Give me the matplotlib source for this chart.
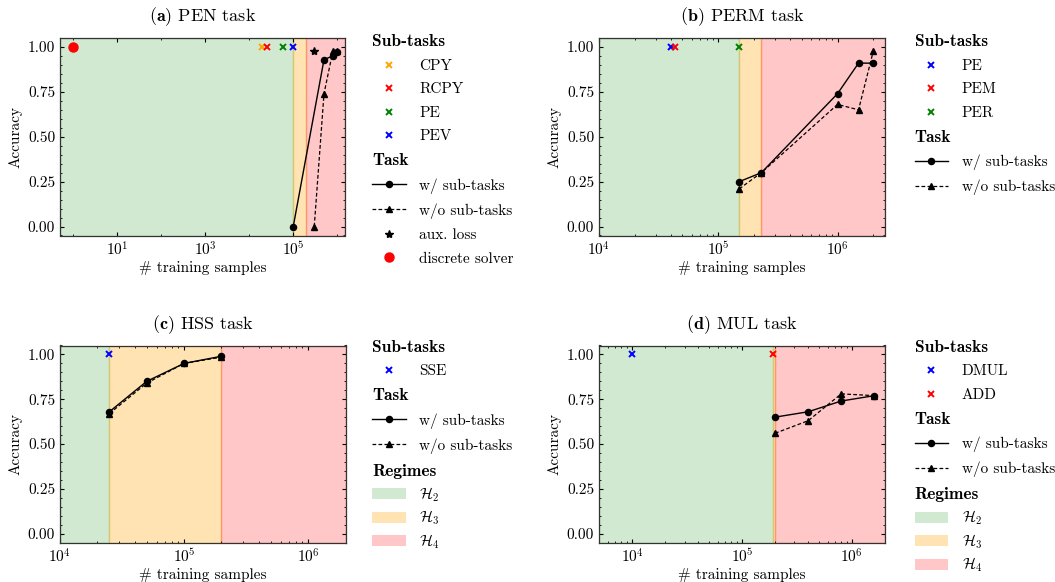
import numpy as np
import matplotlib
matplotlib.use("Agg")
import matplotlib.pyplot as plt
from matplotlib.lines import Line2D
from matplotlib.patches import Patch
from matplotlib.transforms import Bbox
from matplotlib.ticker import FixedLocator, MultipleLocator, FormatStrFormatter, NullFormatter

plt.rcParams['font.family'] = 'serif'
plt.rcParams['font.serif'] = ['cmr10']
plt.rcParams['mathtext.fontset'] = 'cm'
plt.rcParams['axes.formatter.use_mathtext'] = True
plt.rcParams['axes.unicode_minus'] = False

# ---- data ----
# (a) PEN
pen_sub_names = ['CPY', 'RCPY', 'PE', 'PEV']
pen_sub_x = [2e4, 2.5e4, 6e4, 1e5]
pen_sub_colors = ['orange', 'red', 'green', 'blue']
pen_w_x = [1e5, 5e5, 8e5, 1e6]
pen_w_y = [0.0, 0.93, 0.95, 0.97]
pen_wo_x = [3e5, 5e5, 8e5, 1e6]
pen_wo_y = [0.0, 0.74, 0.98, 0.98]
pen_aux_x = [3e5]
pen_aux_y = [0.98]
pen_solver_x = [1]
pen_solver_y = [1.0]
pen_regimes = [1e5, 2e5]
pen_xlim = [0.5, 1.5e6]

# (b) PERM
perm_sub_names = ['PE', 'PEM', 'PER']
perm_sub_x = [4e4, 4.3e4, 1.5e5]
perm_sub_colors = ['blue', 'red', 'green']
perm_w_x = [1.5e5, 2.3e5, 1e6, 1.5e6, 2e6]
perm_w_y = [0.25, 0.30, 0.74, 0.91, 0.91]
perm_wo_x = [1.5e5, 2.3e5, 1e6, 1.5e6, 2e6]
perm_wo_y = [0.21, 0.30, 0.68, 0.65, 0.98]
perm_regimes = [1.5e5, 2.3e5]
perm_xlim = [1e4, 2.5e6]

# (c) HSS
hss_sub_names = ['SSE']
hss_sub_x = [2.5e4]
hss_sub_colors = ['blue']
hss_w_x = [2.5e4, 5e4, 1e5, 2e5]
hss_w_y = [0.68, 0.85, 0.95, 0.99]
hss_wo_x = [2.5e4, 5e4, 1e5, 2e5]
hss_wo_y = [0.67, 0.84, 0.95, 0.985]
hss_regimes = [2.5e4, 2e5]
hss_xlim = [1e4, 2e6]

# (d) MUL
mul_sub_names = ['DMUL', 'ADD']
mul_sub_x = [1e4, 1.9e5]
mul_sub_colors = ['blue', 'red']
mul_w_x = [2e5, 4e5, 8e5, 1.6e6]
mul_w_y = [0.65, 0.68, 0.74, 0.77]
mul_wo_x = [2e5, 4e5, 8e5, 1.6e6]
mul_wo_y = [0.56, 0.63, 0.78, 0.77]
mul_regimes = [1.9e5, 2e5]
mul_xlim = [5e3, 2e6]

regime_names = [r'$\mathcal{H}_2$', r'$\mathcal{H}_3$', r'$\mathcal{H}_4$']
regime_colors = [('green', 0.18), ('orange', 0.30), ('red', 0.22)]

W, H = 1055, 582
fig = plt.figure(figsize=(W / 100, H / 100), dpi=100)


def px_axes(l, r, t, b):
    return fig.add_axes([l / W, 1 - b / H, (r - l) / W, (b - t) / H])


def draw_panel(ax, title, xlim, regimes, sub_names, sub_x, sub_colors,
               w_x, w_y, wo_x, wo_y):
    edges = [xlim[0]] + regimes + [xlim[1]]
    for i, (c, a) in enumerate(regime_colors):
        ax.axvspan(edges[i], edges[i + 1], color=c, alpha=a)
    ax.plot(w_x, w_y, color='k', ls='-', marker='o', ms=4.4, lw=1)
    ax.plot(wo_x, wo_y, color='k', ls='--', marker='^', ms=4.4, lw=0.9,
            dashes=(3, 1.8))
    for x, c in zip(sub_x, sub_colors):
        ax.plot([x], [1.0], ls='none', marker='x', color=c, ms=4, mew=1.4)
    ax.set_xscale('log')
    ax.set_xlim(xlim)
    ax.set_ylim(-0.05, 1.05)
    ax.yaxis.set_major_locator(FixedLocator([0, 0.25, 0.5, 0.75, 1.0]))
    ax.yaxis.set_major_formatter(FormatStrFormatter('%.2f'))
    ax.yaxis.set_minor_locator(MultipleLocator(0.05))
    ax.set_xlabel('# training samples', fontsize=11, labelpad=2)
    ax.set_ylabel('Accuracy', fontsize=11)
    ax.set_title(title, fontsize=13, pad=12)
    ax.tick_params(which='both', direction='in', top=True, right=True,
                   labelsize=11)
    ax.tick_params(which='major', length=3.2, width=0.8)
    ax.tick_params(which='minor', length=1.6, width=0.6)
    for s in ax.spines.values():
        s.set_linewidth(0.9)
        s.set_color('#333333')


def plain_row_height(ta):
    # math labels (H with subscript) get the same box as a plain text row
    orig = ta.get_bbox

    def get_bbox(renderer):
        b = orig(renderer)
        _, h_, d_ = renderer.get_text_width_height_descent(
            "lp", ta._text._fontproperties, ismath=False)
        return Bbox.from_bounds(b.x0, -d_, b.width, h_)
    ta.get_bbox = get_bbox


def add_legend(ax, x, y, sections):
    handles, labels, heads = [], [], []
    for head, items in sections:
        handles.append(Line2D([], [], ls='none'))
        labels.append(head)
        heads.append(True)
        for h, l in items:
            handles.append(h)
            labels.append(l)
            heads.append(False)
    leg = ax.legend(handles, labels, loc='upper left', bbox_to_anchor=(x / W, 1 - y / H),
                    bbox_transform=fig.transFigure, frameon=False, borderpad=0,
                    borderaxespad=0, fontsize=11, handlelength=2.2,
                    handletextpad=0.9, labelspacing=0.64, numpoints=1)
    rows = [hp for col in leg._legend_handle_box.get_children()
            for hp in col.get_children()]
    for row, head, lab, txt in zip(rows, heads, labels, leg.get_texts()):
        if head:
            row.get_children()[0].width = 0
            row.sep = 0
            txt.set_fontfamily('cmb10')
            txt.set_fontsize(12.5)
        if lab.startswith('$'):
            plain_row_height(row.get_children()[1])
    return leg


def sub_handles(names, colors):
    return [(Line2D([], [], ls='none', marker='x', color=c, ms=4, mew=1.4), n)
            for n, c in zip(names, colors)]


task_handles = [
    (Line2D([], [], color='k', ls='-', marker='o', ms=4.4, lw=1), 'w/ sub-tasks'),
    (Line2D([], [], color='k', ls='--', marker='^', ms=4.4, lw=0.9, dashes=(3, 1.8)),
     'w/o sub-tasks'),
]
regime_handles = [(Patch(facecolor=c, alpha=a, edgecolor='none'), n)
                  for (c, a), n in zip(regime_colors, regime_names)]

# (a)
ax = px_axes(60, 345, 38, 235.5)
draw_panel(ax, r'$\mathbf{(a)}$ PEN task', pen_xlim, pen_regimes,
           pen_sub_names, pen_sub_x, pen_sub_colors,
           pen_w_x, pen_w_y, pen_wo_x, pen_wo_y)
ax.plot(pen_aux_x, pen_aux_y, ls='none', marker='*', color='k', ms=6)
ax.plot(pen_solver_x, pen_solver_y, ls='none', marker='o', color='red', ms=6.5)
ax.xaxis.set_major_locator(FixedLocator([1e1, 1e3, 1e5]))
ax.xaxis.set_minor_locator(FixedLocator([1e0, 1e2, 1e4, 1e6]))
ax.xaxis.set_minor_formatter(NullFormatter())
add_legend(ax, 372, 34.5, [
    ('Sub-tasks', sub_handles(pen_sub_names, pen_sub_colors)),
    ('Task', task_handles + [
        (Line2D([], [], ls='none', marker='*', color='k', ms=6), 'aux. loss'),
        (Line2D([], [], ls='none', marker='o', color='red', ms=6.5), 'discrete solver')]),
])

# (b)
ax = px_axes(599, 885, 38, 235.5)
draw_panel(ax, r'$\mathbf{(b)}$ PERM task', perm_xlim, perm_regimes,
           perm_sub_names, perm_sub_x, perm_sub_colors,
           perm_w_x, perm_w_y, perm_wo_x, perm_wo_y)
add_legend(ax, 914.5, 34.5, [
    ('Sub-tasks', sub_handles(perm_sub_names, perm_sub_colors)),
    ('Task', task_handles),
])

# (c)
ax = px_axes(60, 345.5, 345.5, 542.5)
draw_panel(ax, r'$\mathbf{(c)}$ HSS task', hss_xlim, hss_regimes,
           hss_sub_names, hss_sub_x, hss_sub_colors,
           hss_w_x, hss_w_y, hss_wo_x, hss_wo_y)
add_legend(ax, 372, 340, [
    ('Sub-tasks', sub_handles(hss_sub_names, hss_sub_colors)),
    ('Task', task_handles),
    ('Regimes', regime_handles),
])

# (d)
ax = px_axes(599, 885, 345.5, 542.5)
draw_panel(ax, r'$\mathbf{(d)}$ MUL task', mul_xlim, mul_regimes,
           mul_sub_names, mul_sub_x, mul_sub_colors,
           mul_w_x, mul_w_y, mul_wo_x, mul_wo_y)
add_legend(ax, 914.5, 340, [
    ('Sub-tasks', sub_handles(mul_sub_names, mul_sub_colors)),
    ('Task', task_handles),
    ('Regimes', regime_handles),
])

fig.savefig('out.png', dpi=100)
